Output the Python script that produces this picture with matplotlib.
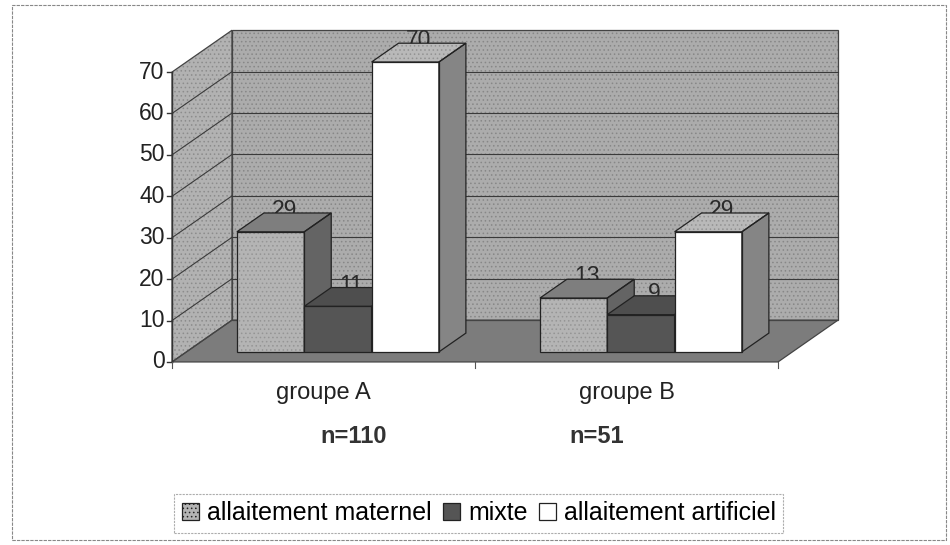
import matplotlib.pyplot as plt
from matplotlib.patches import Polygon, Rectangle, Patch

# données
groupes = ['groupe A', 'groupe B']
effectifs = ['n=110', 'n=51']
series = ['allaitement maternel', 'mixte', 'allaitement artificiel']
maternel = [29, 13]
mixte = [11, 9]
artificiel = [70, 29]
yticks = [0, 10, 20, 30, 40, 50, 60, 70]

valeurs = [maternel, mixte, artificiel]
# couleurs (face avant, dessus, côté)
couleurs = [('#b4b4b4', '#7e7e7e', '#646464'),
            ('#555555', '#4e4e4e', '#474747'),
            ('#ffffff', '#b9b9b9', '#858585')]

plt.rcParams['font.family'] = ['Liberation Sans', 'DejaVu Sans']
plt.rcParams['hatch.linewidth'] = 0.6

fig = plt.figure(figsize=(9.5, 5.45), dpi=100)
ax = fig.add_axes([0, 0, 1, 1])
ax.set_xlim(-0.5677, 2.5677)
ax.set_ylim(-44.2, 87.4)
ax.axis('off')

# profondeur de la vue 3D (décalage oblique)
DX, DY = 0.198, 10.1
ymax = 70
ncat = len(groupes)
arete = '#444444'


def face(pts, fc, z, grain=None, ec=arete):
    ax.add_patch(Polygon(pts, fc=fc, ec='none', zorder=z))
    if grain:
        # grain pointillé par-dessus la couleur de fond
        ax.add_patch(Polygon(pts, fill=False, ec=grain, lw=0, hatch='....', zorder=z + 0.01))
    ax.add_patch(Polygon(pts, fill=False, ec=ec, lw=0.9, zorder=z + 0.02))


# parois et sol
face([(0, 0), (DX, DY), (DX, ymax + DY), (0, ymax)], '#b2b2b2', 1, grain='#8c8c8c')
face([(DX, DY), (ncat + DX, DY), (ncat + DX, ymax + DY), (DX, ymax + DY)], '#acacac', 1,
     grain='#878787')
face([(0, 0), (ncat, 0), (ncat + DX, DY), (DX, DY)], '#7c7c7c', 1)

# quadrillage
for v in yticks[1:-1]:
    ax.plot([DX, ncat + DX], [v + DY, v + DY], color='#3a3a3a', lw=0.8, zorder=1.5)
    ax.plot([0, DX], [v, v + DY], color='#3a3a3a', lw=0.8, zorder=1.5)

# axe vertical, graduations
ax.plot([0, 0], [0, ymax], color='#333333', lw=1, zorder=1.6)
for v in yticks:
    ax.plot([-0.018, 0], [v, v], color='#333333', lw=1, zorder=1.6)
    ax.text(-0.025, v, str(v), ha='right', va='center', fontsize=16.5, color='#222222')
for c in range(ncat + 1):
    ax.plot([c, c], [0, -1.5], color='#555555', lw=0.8)

# barres 3D
w = 1 / 4.5
f0, f1 = 0.24, 0.69
grains = [('#959595', None, None), (None, None, None), (None, '#939393', None)]
for c in range(ncat):
    for i, (vals, (cf, ct, cs)) in enumerate(zip(valeurs, couleurs)):
        v = vals[c]
        x0 = c + 0.75 * w + i * w + f0 * DX
        y0 = f0 * DY
        ddx, ddy = (f1 - f0) * DX, (f1 - f0) * DY
        z = 3 + c * 3 + i * 0.1
        gf, gt, gs = grains[i]
        face([(x0, y0), (x0 + w, y0), (x0 + w, y0 + v), (x0, y0 + v)], cf, z, gf, '#222222')
        face([(x0, y0 + v), (x0 + w, y0 + v), (x0 + w + ddx, y0 + v + ddy),
              (x0 + ddx, y0 + v + ddy)], ct, z, gt, '#222222')
        face([(x0 + w, y0), (x0 + w + ddx, y0 + ddy),
              (x0 + w + ddx, y0 + v + ddy), (x0 + w, y0 + v)], cs, z, gs, '#222222')
        # étiquette de valeur, en partie cachée par le dessus de la barre
        ax.text(x0 + w / 2 + ddx / 2, y0 + v + ddy + 0.6, str(v), ha='center', va='center',
                fontsize=16.5, color='#2a2a2a', zorder=z - 0.05)

# étiquettes des catégories
for c, g in enumerate(groupes):
    ax.text(c + 0.5, -7.5, g, ha='center', va='center', fontsize=17, color='#222222')
ax.text(0.6, -18, effectifs[0], ha='center', va='center', fontsize=17,
        fontweight='bold', color='#333333')
ax.text(1.4, -18, effectifs[1], ha='center', va='center', fontsize=17,
        fontweight='bold', color='#333333')

# légende
handles = [Patch(fc=couleurs[0][0], ec='#222222', lw=0.9, hatch='....'),
           Patch(fc=couleurs[1][0], ec='#222222', lw=0.9),
           Patch(fc=couleurs[2][0], ec='#222222', lw=0.9)]
leg = fig.legend(handles, series, loc='center', bbox_to_anchor=(0.504, 0.058), ncol=3,
                 fontsize=18, frameon=True, fancybox=False, handlelength=0.7,
                 handleheight=0.7, handletextpad=0.3, columnspacing=0.45,
                 borderpad=0.3)
leg.get_frame().set_edgecolor('#999999')
leg.get_frame().set_linewidth(0.8)
leg.get_frame().set_linestyle((0, (2, 1)))

# cadre du graphique
fig.patches.append(Rectangle((12 / 950, 5 / 545), 934 / 950, 535 / 545,
                             transform=fig.transFigure, fill=False,
                             ec='#888888', lw=0.8, ls=(0, (3, 1))))

fig.savefig('out.png', dpi=100)
